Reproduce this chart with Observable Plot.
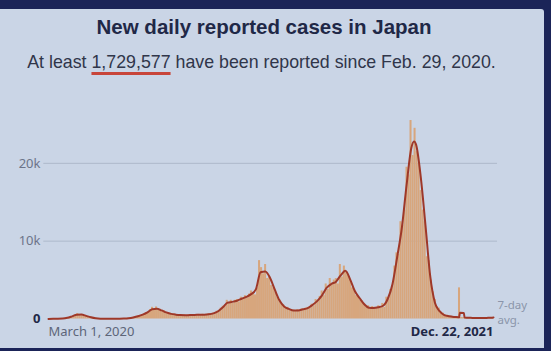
<!DOCTYPE html>
<html>
<head>
<meta charset="utf-8">
<script src="https://cdn.jsdelivr.net/npm/d3@7"></script>
<script src="https://cdn.jsdelivr.net/npm/@observablehq/plot@0.6"></script>
<style>
  html, body { margin: 0; padding: 0; }
  body { width: 551px; height: 351px; position: relative; overflow: hidden; background: #1b2458; font-family: "Liberation Sans", Arial, sans-serif; }
  #panel { position: absolute; left: 0; top: 9px; width: 544px; height: 339px; background: #cad5e6; border-top-right-radius: 3px; }
  #title { position: absolute; left: 0; width: 528px; top: 15px; text-align: center; font-weight: bold; font-size: 20.5px; line-height: 24px; color: #1f2847; }
  #subtitle { position: absolute; left: 0; width: 523px; top: 51px; text-align: center; font-size: 17.8px; line-height: 22px; color: #30364a; }
  #subtitle .num { text-decoration: underline; text-decoration-color: #c8453a; text-decoration-thickness: 2.5px; text-underline-offset: 4px; }
  #chart { position: absolute; left: 0; top: 80px; }
</style>
</head>
<body>
<div id="panel"></div>
<div id="title">New daily reported cases in Japan</div>
<div id="subtitle">At least <span class="num">1,729,577</span> have been reported since Feb. 29, 2020.</div>
<div id="chart"></div>
<script>
// ---- data ----
const startDate = "2020-03-01";
const endDate = "2021-12-22";
const binDays = 3; // each daily-bar value covers 3 days from startDate

const dailyCases = [
  12,33,50,38,52,30,40,55,100,190,
  220,320,360,520,700,520,580,400,440,260,
  230,210,100,100,55,45,25,30,24,35,
  40,36,45,38,45,48,45,65,60,100,
  95,170,240,230,370,330,560,520,800,760,
  1200,1500,1200,1550,1100,1250,1000,1050,850,720,
  740,550,620,540,560,520,430,520,460,520,
  480,500,560,480,600,500,610,520,600,660,
  550,750,700,1000,1050,1400,1650,1600,2400,2000,
  2400,2000,2400,2500,2200,2800,2500,3000,2700,3200,
  3600,3400,3100,4000,7500,6600,5800,7000,5200,5400,
  4300,4000,3500,2800,2500,1900,1800,1300,1500,1200,
  1100,1150,1000,1200,1000,1300,1200,1400,1500,1400,
  1900,1700,2500,2300,2900,3600,3000,4500,3800,5200,
  4400,5000,5200,4500,7000,5400,6800,6000,5600,5000,
  4000,3700,3000,2900,2400,2300,2000,1500,1700,1300,
  1600,1500,1500,1700,1400,2000,1500,2800,2500,3800,
  4200,6800,8500,8300,12500,12000,14000,19500,18500,25500,
  21000,24500,21500,20000,16500,14000,12500,8000,7500,5000,
  3500,2500,1600,1400,800,750,500,480,350,350,
  280,220,260,4000,200,180,170,180,150,160,
  130,120,130,110,120,110,130,140,150,180,
  220
];

const avgDates = [
  "2020-03-01","2020-03-08","2020-03-15","2020-03-22","2020-03-29","2020-04-05","2020-04-12","2020-04-19","2020-04-26",
  "2020-05-03","2020-05-10","2020-05-17","2020-05-24","2020-05-31","2020-06-07","2020-06-14","2020-06-21","2020-06-28",
  "2020-07-05","2020-07-12","2020-07-19","2020-07-26","2020-08-02","2020-08-09","2020-08-16","2020-08-23","2020-08-30",
  "2020-09-06","2020-09-13","2020-09-20","2020-09-27","2020-10-04","2020-10-11","2020-10-18","2020-10-25","2020-11-01",
  "2020-11-08","2020-11-15","2020-11-22","2020-11-29","2020-12-06","2020-12-13","2020-12-20","2020-12-27","2021-01-03",
  "2021-01-10","2021-01-17","2021-01-24","2021-01-31","2021-02-07","2021-02-14","2021-02-21","2021-02-28","2021-03-07",
  "2021-03-14","2021-03-21","2021-03-28","2021-04-04","2021-04-11","2021-04-18","2021-04-25","2021-05-02","2021-05-09",
  "2021-05-16","2021-05-23","2021-05-30","2021-06-06","2021-06-13","2021-06-20","2021-06-27","2021-07-04","2021-07-11",
  "2021-07-18","2021-07-25","2021-08-01","2021-08-08","2021-08-15","2021-08-22","2021-08-26","2021-08-29","2021-09-05",
  "2021-09-12","2021-09-19","2021-09-26","2021-10-03","2021-10-10","2021-10-17","2021-10-24","2021-10-31","2021-11-01",
  "2021-11-02","2021-11-08","2021-11-09","2021-11-14","2021-11-21","2021-11-28","2021-12-05","2021-12-12","2021-12-19",
  "2021-12-22"
];
const avgValues = [
  10,40,40,60,150,340,550,580,400,
  220,90,35,28,38,40,45,60,100,
  200,350,560,850,1250,1320,1100,850,660,
  560,500,480,500,520,550,560,600,720,
  1000,1500,2100,2200,2350,2600,2850,3200,3800,
  6000,6100,5300,3800,2400,1600,1300,1100,1100,
  1250,1400,1800,2300,3000,4000,4500,4800,5600,
  6200,5100,3600,2700,1900,1450,1400,1500,1700,
  2600,4500,8000,11800,17300,22000,22800,22400,18200,
  12000,5500,2100,1000,500,350,270,230,220,
  800,780,190,170,140,120,120,140,170,
  200
];

const yTicks = [10000, 20000];
const yTickLabels = ["10k", "20k"];
const zeroLabel = "0";
const xStartLabel = "March 1, 2020";
const xEndLabel = "Dec. 22, 2021";
const avgLabelTop = "7-day";
const avgLabelBottom = "avg.";

// ---- build tables ----
const parse = d3.utcParse("%Y-%m-%d");
const start = parse(startDate);
const end = parse(endDate);
const daily = dailyCases.map((v, i) => {
  const d1 = d3.utcDay.offset(start, i * binDays);
  const d2 = d3.utcDay.offset(start, (i + 1) * binDays);
  return {x1: d1, x2: d2 > end ? end : d2, value: v};
});
const avg = avgDates.map((d, i) => ({date: parse(d), value: avgValues[i]}));
const gridX1 = d3.utcDay.offset(start, -7);
const gridX2 = d3.utcDay.offset(end, 6);

const chart = Plot.plot({
  width: 551,
  height: 271,
  marginLeft: 48,
  marginRight: 58,
  marginTop: 5,
  marginBottom: 32.5,
  style: {background: "transparent", overflow: "visible"},
  x: {type: "utc", domain: [start, end], axis: null},
  y: {domain: [0, 30000], axis: null},
  marks: [
    Plot.ruleY(yTicks, {y: d => d, x1: () => gridX1, x2: () => gridX2, stroke: "#aeb9cb", strokeWidth: 1}),
    Plot.rectY(daily, {x1: "x1", x2: "x2", y: "value", fill: "#d7a67d"}),
    Plot.line(avg, {x: "date", y: "value", stroke: "#9e3829", strokeWidth: 2, curve: "monotone-x"}),
    Plot.text(yTicks, {x: () => start, y: d => d, text: (d, i) => yTickLabels[i], textAnchor: "end", dx: -8, fill: "#6c7489", fontSize: 13}),
    Plot.text([0], {x: () => start, y: d => d, text: () => zeroLabel, textAnchor: "end", dx: -8, fill: "#1f2847", fontSize: 13, fontWeight: "bold"}),
    Plot.text([start], {x: d => d, y: 0, text: () => xStartLabel, textAnchor: "start", dy: 13, fill: "#5d6579", fontSize: 13}),
    Plot.text([end], {x: d => d, y: 0, text: () => xEndLabel, textAnchor: "end", dy: 13, fill: "#1f2847", fontSize: 13, fontWeight: "bold"}),
    Plot.text([end], {x: d => d, y: 0, text: () => avgLabelTop, textAnchor: "start", dx: 4, dy: -14, fill: "#8b95aa", fontSize: 11.5}),
    Plot.text([end], {x: d => d, y: 0, text: () => avgLabelBottom, textAnchor: "start", dx: 4, dy: 1.5, fill: "#8b95aa", fontSize: 11.5})
  ]
});
document.getElementById("chart").appendChild(chart);
</script>
</body>
</html>
